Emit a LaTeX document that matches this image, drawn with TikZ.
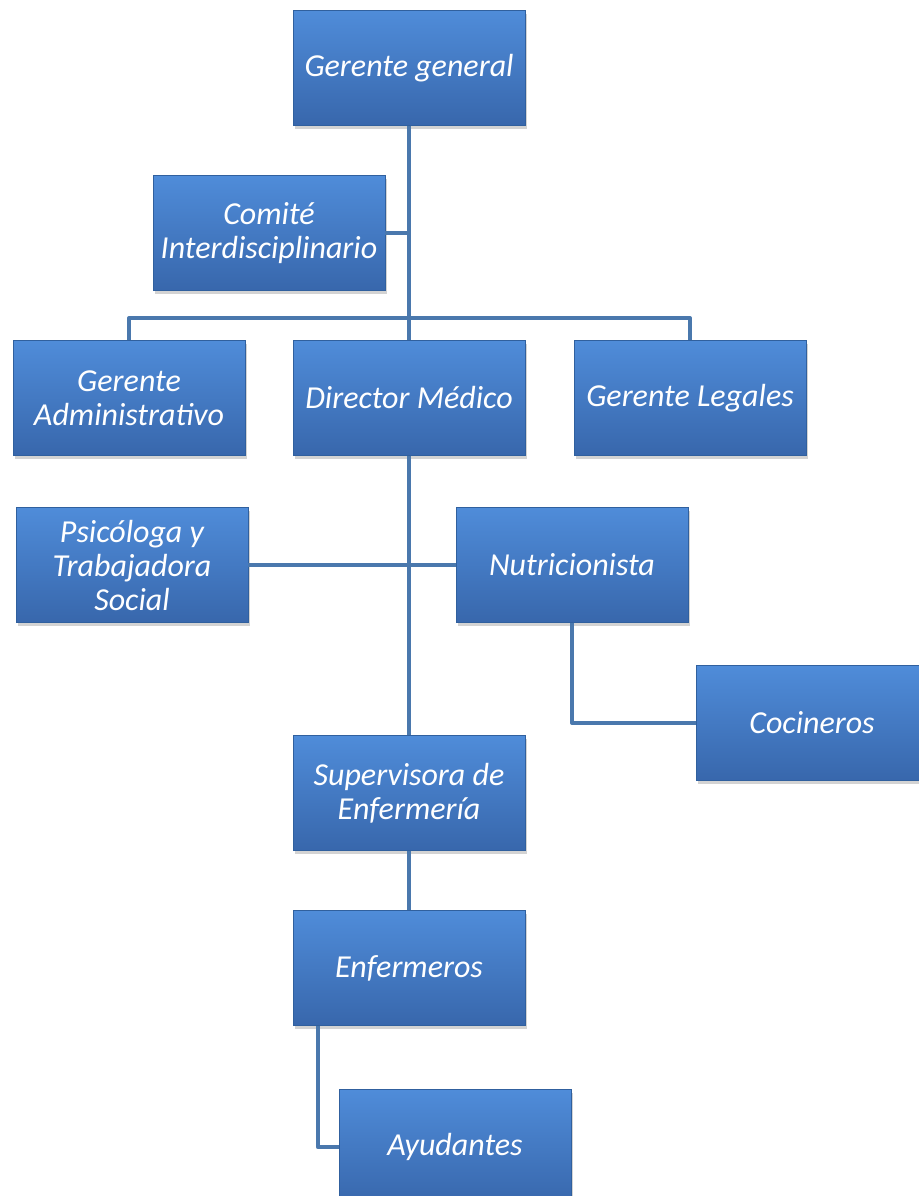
\documentclass[tikz,border=0pt]{standalone}
\usepackage{fontspec}
\setmainfont{Carlito}
\usetikzlibrary{shadows}

\definecolor{boxtop}{HTML}{4F8CD9}
\definecolor{boxbot}{HTML}{3867AC}
\definecolor{boxedge}{HTML}{30609E}
\definecolor{linkblue}{HTML}{4A78AD}

\begin{document}
\begin{tikzpicture}[
            x=0.75pt, y=-0.75pt,
            unit/.style={
                rectangle,
                draw=boxedge,
                top color=boxtop,
                bottom color=boxbot,
                minimum width=174pt,
                minimum height=86pt,
                inner sep=2pt,
                align=center,
                text=white,
                font=\fontsize{24}{25.5}\selectfont\itshape,
                drop shadow={opacity=0.35, shadow xshift=1.5pt, shadow yshift=-2.5pt}
            },
            link/.style={
                draw=linkblue,
                line width=3pt,
                line join=round
            }
        ]

            \useasboundingbox (0,0) rectangle (918,1196);

            \node[unit] (ggen) at (409, 68) {Gerente general};
            \node[unit] (comite) at (269, 233) {Comité\\Interdisciplinario};

            \node[unit] (gadm) at (129, 398) {Gerente\\Administrativo};
            \node[unit] (dmed) at (409, 398) {Director Médico};
            \node[unit] (gleg) at (690, 398) {Gerente Legales};

            \node[unit] (psico) at (132, 565) {Psicóloga y\\Trabajadora\\Social};
            \node[unit] (nutri) at (572, 565) {Nutricionista};
            \node[unit] (coci) at (812, 723) {Cocineros};

            \node[unit] (superv) at (409, 793) {Supervisora de\\Enfermería};
            \node[unit] (enf) at (409, 968) {Enfermeros};
            \node[unit] (ayud) at (455, 1147) {Ayudantes};

            \coordinate (bus) at (409, 318);

            \draw[link] (ggen) -- (dmed);
            \draw[link] (comite.east) -- (comite.east -| ggen.south);
            \draw[link] (gadm.north) |- (bus) -| (gleg.north);

            \draw[link] (dmed) -- (superv);
            \draw[link] (psico.east) -- (nutri.west);
            \draw[link] (nutri.south) |- (coci.west);

            \draw[link] (superv) -- (enf);
            \draw[link] ([xshift=18.75pt]enf.south west) |- (ayud.west);

        \end{tikzpicture}
\end{document}
